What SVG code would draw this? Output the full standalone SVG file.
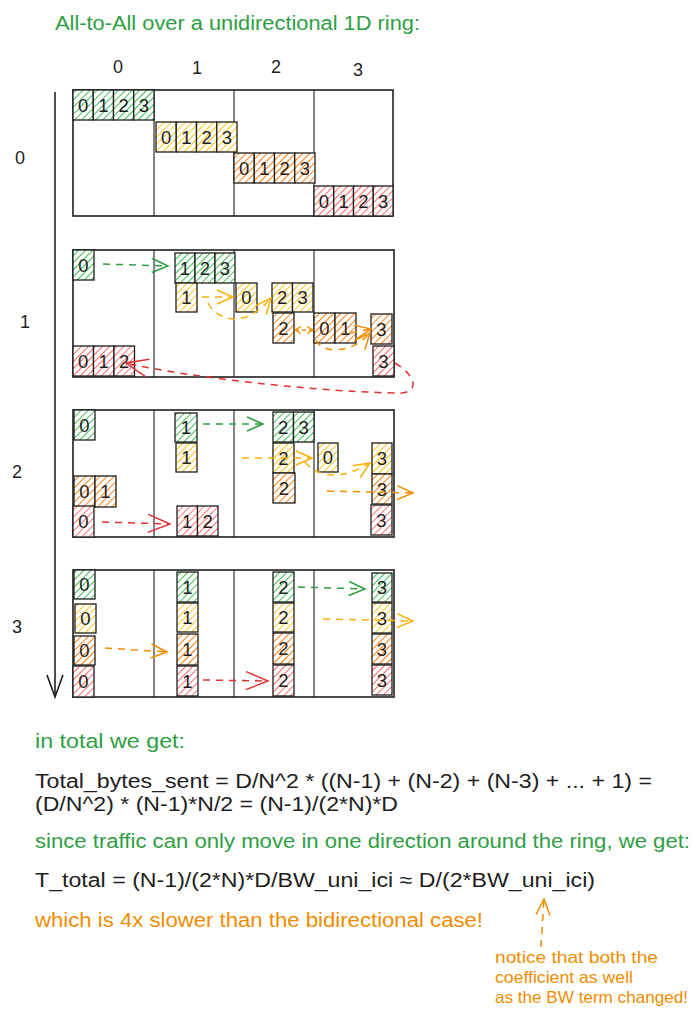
<svg xmlns="http://www.w3.org/2000/svg" width="700" height="1020" viewBox="0 0 700 1020">
<defs>
<style>
text{font-family:"Liberation Sans","Noto Sans",sans-serif;fill:#1e1e1e}
.d{font-size:18.5px;text-anchor:middle}
.lab{font-size:18px;text-anchor:middle}
.t{font-size:20px}
.g{fill:#2f9e44}
.o{fill:#f08c00}
.panel{fill:none;stroke:#1e1e1e;stroke-width:1.6}
.col{stroke:#1e1e1e;stroke-width:1.1}
.cg,.cy,.co,.cr{stroke:#1e1e1e;stroke-width:1.3}
.cg{fill:url(#hg)}.cy{fill:url(#hy)}.co{fill:url(#ho)}.cr{fill:url(#hr)}
.a{fill:none;stroke-width:1.5;stroke-dasharray:7 6}
.ag{stroke:#2f9e44;marker-end:url(#mg)}
.ay{stroke:#fab005;marker-end:url(#my)}
.ao{stroke:#f08c00;marker-end:url(#mo)}
.ar{stroke:#e03131;marker-end:url(#mr)}
</style>
<pattern id="hg" width="5" height="5" patternUnits="userSpaceOnUse" patternTransform="rotate(45)"><rect width="5" height="5" fill="#fff"/><line x1="2.5" y1="0" x2="2.5" y2="5" stroke="#40c057" stroke-width="1"/></pattern>
<pattern id="hy" width="5" height="5" patternUnits="userSpaceOnUse" patternTransform="rotate(45)"><rect width="5" height="5" fill="#fff"/><line x1="2.5" y1="0" x2="2.5" y2="5" stroke="#fcc419" stroke-width="1"/></pattern>
<pattern id="ho" width="5" height="5" patternUnits="userSpaceOnUse" patternTransform="rotate(45)"><rect width="5" height="5" fill="#fff"/><line x1="2.5" y1="0" x2="2.5" y2="5" stroke="#fd7e14" stroke-width="1"/></pattern>
<pattern id="hr" width="5" height="5" patternUnits="userSpaceOnUse" patternTransform="rotate(45)"><rect width="5" height="5" fill="#fff"/><line x1="2.5" y1="0" x2="2.5" y2="5" stroke="#ff6b6b" stroke-width="1"/></pattern>
<marker id="mg" markerUnits="userSpaceOnUse" markerWidth="20" markerHeight="20" viewBox="0 0 20 20" refX="18" refY="10" orient="auto-start-reverse"><path d="M2,3 L18,10 L2,17" fill="none" stroke="#2f9e44" stroke-width="1.5"/></marker>
<marker id="my" markerUnits="userSpaceOnUse" markerWidth="20" markerHeight="20" viewBox="0 0 20 20" refX="18" refY="10" orient="auto-start-reverse"><path d="M2,3 L18,10 L2,17" fill="none" stroke="#fab005" stroke-width="1.5"/></marker>
<marker id="mo" markerUnits="userSpaceOnUse" markerWidth="20" markerHeight="20" viewBox="0 0 20 20" refX="18" refY="10" orient="auto-start-reverse"><path d="M2,3 L18,10 L2,17" fill="none" stroke="#f08c00" stroke-width="1.5"/></marker>
<marker id="mos" markerUnits="userSpaceOnUse" markerWidth="10" markerHeight="10" viewBox="0 0 10 10" refX="9" refY="5" orient="auto-start-reverse"><path d="M3,1.5 L9,5 L3,8.5" fill="none" stroke="#f08c00" stroke-width="1.4"/></marker>
<marker id="mr" markerUnits="userSpaceOnUse" markerWidth="26" markerHeight="26" viewBox="0 0 26 26" refX="24" refY="13" orient="auto-start-reverse"><path d="M2,4 L24,13 L2,22" fill="none" stroke="#e03131" stroke-width="1.5"/></marker>
</defs>
<rect width="700" height="1020" fill="#fff"/>

<g id="title"><text x="55" y="30" class="g" style="font-size:20px" textLength="365" lengthAdjust="spacingAndGlyphs">All-to-All over a unidirectional 1D ring:</text></g>

<g id="col-labels">
<text class="lab" x="118" y="73">0</text>
<text class="lab" x="197" y="74">1</text>
<text class="lab" x="276" y="73">2</text>
<text class="lab" x="358" y="76">3</text>
</g>
<g id="row-labels">
<text class="lab" x="20" y="164">0</text>
<text class="lab" x="25" y="328">1</text>
<text class="lab" x="17" y="478">2</text>
<text class="lab" x="17" y="633">3</text>
</g>

<g id="time-axis">
<line x1="55" y1="92" x2="55" y2="697" stroke="#1e1e1e" stroke-width="1.6"/>
<path d="M47,675 L55,697 L63,675" fill="none" stroke="#1e1e1e" stroke-width="1.6"/>
</g>

<g id="step0">
<rect class="panel" x="73" y="90" width="320" height="126"/>
<line class="col" x1="154" y1="90" x2="154" y2="216"/>
<line class="col" x1="234" y1="90" x2="234" y2="216"/>
<line class="col" x1="314" y1="90" x2="314" y2="216"/>
<g id="s0-green">
<rect class="cg" x="73" y="90" width="20.25" height="30"/><rect class="cg" x="93.25" y="90" width="20.25" height="30"/><rect class="cg" x="113.5" y="90" width="20.25" height="30"/><rect class="cg" x="133.75" y="90" width="20.25" height="30"/>
<text class="d" x="83.1" y="111.5">0</text><text class="d" x="103.4" y="111.5">1</text><text class="d" x="123.6" y="111.5">2</text><text class="d" x="143.9" y="111.5">3</text>
</g>
<g id="s0-yellow">
<rect class="cy" x="156" y="122" width="20.25" height="30"/><rect class="cy" x="176.25" y="122" width="20.25" height="30"/><rect class="cy" x="196.5" y="122" width="20.25" height="30"/><rect class="cy" x="216.75" y="122" width="20.25" height="30"/>
<text class="d" x="166.1" y="143.5">0</text><text class="d" x="186.4" y="143.5">1</text><text class="d" x="206.6" y="143.5">2</text><text class="d" x="226.9" y="143.5">3</text>
</g>
<g id="s0-orange">
<rect class="co" x="234" y="153" width="20.25" height="30"/><rect class="co" x="254.25" y="153" width="20.25" height="30"/><rect class="co" x="274.5" y="153" width="20.25" height="30"/><rect class="co" x="294.75" y="153" width="20.25" height="30"/>
<text class="d" x="244.1" y="174.5">0</text><text class="d" x="264.4" y="174.5">1</text><text class="d" x="284.6" y="174.5">2</text><text class="d" x="304.9" y="174.5">3</text>
</g>
<g id="s0-red">
<rect class="cr" x="314" y="186" width="19.75" height="30"/><rect class="cr" x="333.75" y="186" width="19.75" height="30"/><rect class="cr" x="353.5" y="186" width="19.75" height="30"/><rect class="cr" x="373.25" y="186" width="19.75" height="30"/>
<text class="d" x="323.9" y="207.5">0</text><text class="d" x="343.6" y="207.5">1</text><text class="d" x="363.4" y="207.5">2</text><text class="d" x="383.1" y="207.5">3</text>
</g>
</g>

<g id="step1">
<rect class="panel" x="73" y="250" width="321" height="127"/>
<line class="col" x1="154" y1="250" x2="154" y2="377"/>
<line class="col" x1="234" y1="250" x2="234" y2="377"/>
<line class="col" x1="314" y1="250" x2="314" y2="377"/>
<g id="s1-green">
<rect class="cg" x="73" y="250" width="21" height="30"/><text class="d" x="83.5" y="271.5">0</text>
<rect class="cg" x="175" y="253" width="20" height="30"/><rect class="cg" x="195" y="253" width="20" height="30"/><rect class="cg" x="215" y="253" width="20" height="30"/>
<text class="d" x="185" y="274.5">1</text><text class="d" x="205" y="274.5">2</text><text class="d" x="225" y="274.5">3</text>
</g>
<g id="s1-yellow">
<rect class="cy" x="176" y="283" width="21" height="29"/><text class="d" x="186.5" y="304">1</text>
<rect class="cy" x="236" y="283" width="21" height="29"/><text class="d" x="246.5" y="304">0</text>
<rect class="cy" x="272" y="283" width="20.5" height="29"/><rect class="cy" x="292.5" y="283" width="20.5" height="29"/>
<text class="d" x="282.2" y="304">2</text><text class="d" x="302.7" y="304">3</text>
</g>
<g id="s1-orange">
<rect class="co" x="273" y="313" width="21" height="30"/><text class="d" x="283.5" y="334.5">2</text>
<rect class="co" x="314" y="313" width="21" height="30"/><rect class="co" x="335" y="313" width="21" height="30"/>
<text class="d" x="324.5" y="334.5">0</text><text class="d" x="345.5" y="334.5">1</text>
<rect class="co" x="371" y="314" width="21" height="30"/><text class="d" x="381.5" y="335.5">3</text>
</g>
<g id="s1-red">
<rect class="cr" x="73" y="346" width="20.5" height="30"/><rect class="cr" x="93.5" y="346" width="20.5" height="30"/><rect class="cr" x="114" y="346" width="20.5" height="30"/>
<text class="d" x="83.2" y="367.5">0</text><text class="d" x="103.7" y="367.5">1</text><text class="d" x="124.2" y="367.5">2</text>
<rect class="cr" x="373" y="346" width="21" height="30"/><text class="d" x="383.5" y="367.5">3</text>
</g>
</g>

<g id="step2">
<rect class="panel" x="73" y="410" width="321" height="127"/>
<line class="col" x1="154" y1="410" x2="154" y2="537"/>
<line class="col" x1="234" y1="410" x2="234" y2="537"/>
<line class="col" x1="314" y1="410" x2="314" y2="537"/>
<g id="s2-green">
<rect class="cg" x="74" y="410" width="21" height="30"/><text class="d" x="84.5" y="431.5">0</text>
<rect class="cg" x="175" y="413" width="22" height="29"/><text class="d" x="186" y="434">1</text>
<rect class="cg" x="273" y="412" width="20.5" height="30"/><rect class="cg" x="293.5" y="412" width="20.5" height="30"/>
<text class="d" x="283.2" y="433.5">2</text><text class="d" x="303.7" y="433.5">3</text>
</g>
<g id="s2-yellow">
<rect class="cy" x="176" y="443" width="21" height="29"/><text class="d" x="186.5" y="464">1</text>
<rect class="cy" x="273" y="443" width="21" height="30"/><text class="d" x="283.5" y="464.5">2</text>
<rect class="cy" x="318" y="443" width="20" height="29"/><text class="d" x="328" y="464">0</text>
<rect class="cy" x="372" y="443" width="20" height="31"/><text class="d" x="382" y="465">3</text>
</g>
<g id="s2-orange">
<rect class="co" x="74" y="476" width="21" height="31"/><rect class="co" x="95" y="476" width="21" height="31"/>
<text class="d" x="84.5" y="498">0</text><text class="d" x="105.5" y="498">1</text>
<rect class="co" x="273" y="473" width="22" height="30"/><text class="d" x="284" y="494.5">2</text>
<rect class="co" x="372" y="474" width="20" height="30"/><text class="d" x="382" y="495.5">3</text>
</g>
<g id="s2-red">
<rect class="cr" x="73" y="506" width="21" height="31"/><text class="d" x="83.5" y="528">0</text>
<rect class="cr" x="177" y="506" width="20.5" height="30"/><rect class="cr" x="197.5" y="506" width="20.5" height="30"/>
<text class="d" x="187.2" y="527.5">1</text><text class="d" x="207.7" y="527.5">2</text>
<rect class="cr" x="371" y="505" width="21" height="30"/><text class="d" x="381.5" y="526.5">3</text>
</g>
</g>

<g id="step3">
<rect class="panel" x="73" y="570" width="321" height="127"/>
<line class="col" x1="154" y1="570" x2="154" y2="697"/>
<line class="col" x1="234" y1="570" x2="234" y2="697"/>
<line class="col" x1="314" y1="570" x2="314" y2="697"/>
<g id="s3-dev0">
<rect class="cg" x="74" y="570" width="21" height="29"/><text class="d" x="84.5" y="591">0</text>
<rect class="cy" x="75" y="604" width="21" height="29"/><text class="d" x="85.5" y="625">0</text>
<rect class="co" x="74" y="636" width="21" height="29"/><text class="d" x="84.5" y="657">0</text>
<rect class="cr" x="73" y="666" width="21" height="31"/><text class="d" x="83.5" y="688">0</text>
</g>
<g id="s3-dev1">
<rect class="cg" x="177" y="572" width="21" height="30"/><text class="d" x="187.5" y="593.5">1</text>
<rect class="cy" x="177" y="603" width="21" height="29"/><text class="d" x="187.5" y="624">1</text>
<rect class="co" x="177" y="634" width="21" height="31"/><text class="d" x="187.5" y="656">1</text>
<rect class="cr" x="177" y="666" width="21" height="30"/><text class="d" x="187.5" y="687.5">1</text>
</g>
<g id="s3-dev2">
<rect class="cg" x="273" y="572" width="21" height="30"/><text class="d" x="283.5" y="593.5">2</text>
<rect class="cy" x="273" y="603" width="21" height="29"/><text class="d" x="283.5" y="624">2</text>
<rect class="co" x="273" y="633" width="21" height="31"/><text class="d" x="283.5" y="655">2</text>
<rect class="cr" x="273" y="665" width="21" height="31"/><text class="d" x="283.5" y="687">2</text>
</g>
<g id="s3-dev3">
<rect class="cg" x="372" y="573" width="20" height="29"/><text class="d" x="382" y="594">3</text>
<rect class="cy" x="372" y="603" width="20" height="30"/><text class="d" x="382" y="624.5">3</text>
<rect class="co" x="372" y="634" width="20" height="30"/><text class="d" x="382" y="655.5">3</text>
<rect class="cr" x="372" y="665" width="20" height="30"/><text class="d" x="382" y="686.5">3</text>
</g>
</g>

<g id="connectors">
<path class="a ag" d="M103,264 L168,266"/>
<path class="a ay" d="M202,297 L233,297"/>
<path class="a ay" d="M208,303 C220,324 248,326 271,298"/>
<path d="M295,330 L313,330" fill="none" stroke="#f08c00" stroke-width="1.4" stroke-dasharray="4 3" marker-start="url(#mos)" marker-end="url(#mos)"/>
<path class="a ao" d="M350,333 L371,329"/>
<path class="a ao" d="M316,340 C322,354 352,354 370,333"/>
<path class="a ar" d="M395,363 C415,375 420,391 402,393 C340,393 200,380 126,363"/>
<path class="a ag" d="M203,424 L263,424"/>
<path class="a ay" d="M242,458 L312,458"/>
<path class="a ay" d="M305,462 C318,479 345,479 370,463"/>
<path class="a ao" d="M327,491 L413,493"/>
<path class="a ar" d="M102,522 L170,524"/>
<path class="a ag" d="M298,587 L365,589"/>
<path class="a ay" d="M323,619 L413,621"/>
<path class="a ao" d="M105,648 L167,652"/>
<path class="a ar" d="M203,680 L268,681"/>
<path class="a ao" d="M541,947 L544,899"/>
</g>

<g id="summary">
<text class="t g" x="35" y="748" textLength="150" lengthAdjust="spacingAndGlyphs">in total we get:</text>
<text class="t" x="35" y="788" textLength="617" lengthAdjust="spacingAndGlyphs">Total_bytes_sent = D/N^2 * ((N-1) + (N-2) + (N-3) + ... + 1) =</text>
<text class="t" x="35" y="811" textLength="363" lengthAdjust="spacingAndGlyphs">(D/N^2) * (N-1)*N/2 = (N-1)/(2*N)*D</text>
<text class="t g" x="35" y="848" textLength="655" lengthAdjust="spacingAndGlyphs">since traffic can only move in one direction around the ring, we get:</text>
<text class="t" x="35" y="887" textLength="560" lengthAdjust="spacingAndGlyphs">T_total = (N-1)/(2*N)*D/BW_uni_ici ≈ D/(2*BW_uni_ici)</text>
<text class="t o" x="35" y="927" textLength="448" lengthAdjust="spacingAndGlyphs">which is 4x slower than the bidirectional case!</text>
</g>
<g id="note">
<text class="o" style="font-size:16.5px" x="495" y="963" textLength="163" lengthAdjust="spacingAndGlyphs">notice that both the</text>
<text class="o" style="font-size:16.5px" x="495" y="983" textLength="138" lengthAdjust="spacingAndGlyphs">coefficient as well</text>
<text class="o" style="font-size:16.5px" x="495" y="1003" textLength="193" lengthAdjust="spacingAndGlyphs">as the BW term changed!</text>
</g>
</svg>
